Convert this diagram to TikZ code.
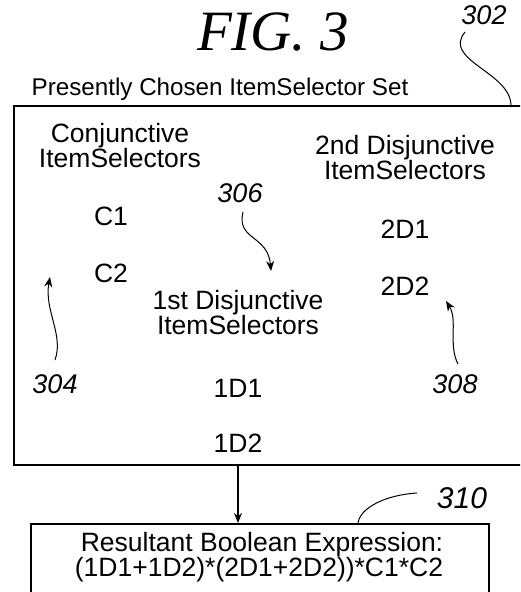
\documentclass[tikz,border=0pt]{standalone}
\usepackage{fontspec}
\setmainfont{Liberation Sans}
\newfontfamily\figfont{Liberation Serif}
\usetikzlibrary{arrows.meta}
\begin{document}
\begin{tikzpicture}[x=1pt,y=-1pt,
  txt/.style={inner sep=0pt,anchor=base,font=\fontsize{26.5}{22}\selectfont},
  num/.style={inner sep=0pt,anchor=base,font=\fontsize{27}{22}\selectfont\itshape},
  boxline/.style={line width=1.5pt},
  lead/.style={line width=1pt},
  tip/.style={-{Stealth[length=10pt,width=8pt]}}]
\useasboundingbox (0,0) rectangle (520,592);
\clip (0,0) rectangle (520,592);
% title
\node[inner sep=0pt,anchor=base,font=\figfont\fontsize{57}{57}\selectfont\itshape] (fig) at (273,50) {FIG. 3};
\node[num] (n302) at (484,24) {302};
\node[txt,font=\fontsize{24.2}{22}\selectfont] (title) at (220,95) {Presently Chosen ItemSelector Set};
% main box
\node[boxline,draw,minimum width=530pt,minimum height=359pt,anchor=north west,inner sep=0pt] (set) at (13,105) {};
\coordinate (c302a) at (465,32);
\coordinate (c302b) at (511,105);
\draw[lead] (c302a) .. controls (442,60) and (510,72) .. (c302b);
% columns
\node[txt] (conj1) at (120,142) {Conjunctive};
\node[txt] (conj2) at (120,167) {ItemSelectors};
\node[txt] (c1) at (111,225) {C1};
\node[txt] (c2) at (111,282) {C2};
\node[txt] (dis2a) at (405,154) {2nd Disjunctive};
\node[txt] (dis2b) at (405,179) {ItemSelectors};
\node[txt] (d21) at (405,238) {2D1};
\node[txt] (d22) at (405,295) {2D2};
\node[txt] (dis1a) at (238,309) {1st Disjunctive};
\node[txt] (dis1b) at (238,334) {ItemSelectors};
\node[txt] (d11) at (238,397) {1D1};
\node[txt] (d12) at (238,452) {1D2};
% reference numerals
\node[num] (n306) at (240,202) {306};
\node[num] (n304) at (55,393) {304};
\node[num] (n308) at (455,393) {308};
\node[num,font=\fontsize{30}{22}\selectfont\itshape] (n310) at (462,508) {310};
\coordinate (c306a) at (243,212);
\coordinate (c306b) at (271,271);
\draw[lead,tip] (c306a) .. controls (236,240) and (268,235) .. (c306b);
\coordinate (c304a) at (55,360);
\coordinate (c304b) at (50,277);
\draw[lead,tip] (c304a) .. controls (64,335) and (44,310) .. (c304b);
\coordinate (c308a) at (458,364);
\coordinate (c308b) at (446,301);
\draw[lead,tip] (c308a) .. controls (448,345) and (458,320) .. (c308b);
% result box
\node[boxline,draw,minimum width=458pt,minimum height=80pt,anchor=north west,inner sep=0pt] (res) at (30,523) {};
\node[txt] (res1) at (262,551) {Resultant Boolean Expression:};
\node[txt] (res2) at (259,576) {(1D1+1D2)*(2D1+2D2))*C1*C2};
\coordinate (c310a) at (417,493);
\coordinate (c310b) at (358,523);
\draw[lead] (c310a) .. controls (385,495) and (360,508) .. (c310b);
\draw[boxline,tip] (set.south -| d12) -- (res.north -| d12);
\end{tikzpicture}
\end{document}
